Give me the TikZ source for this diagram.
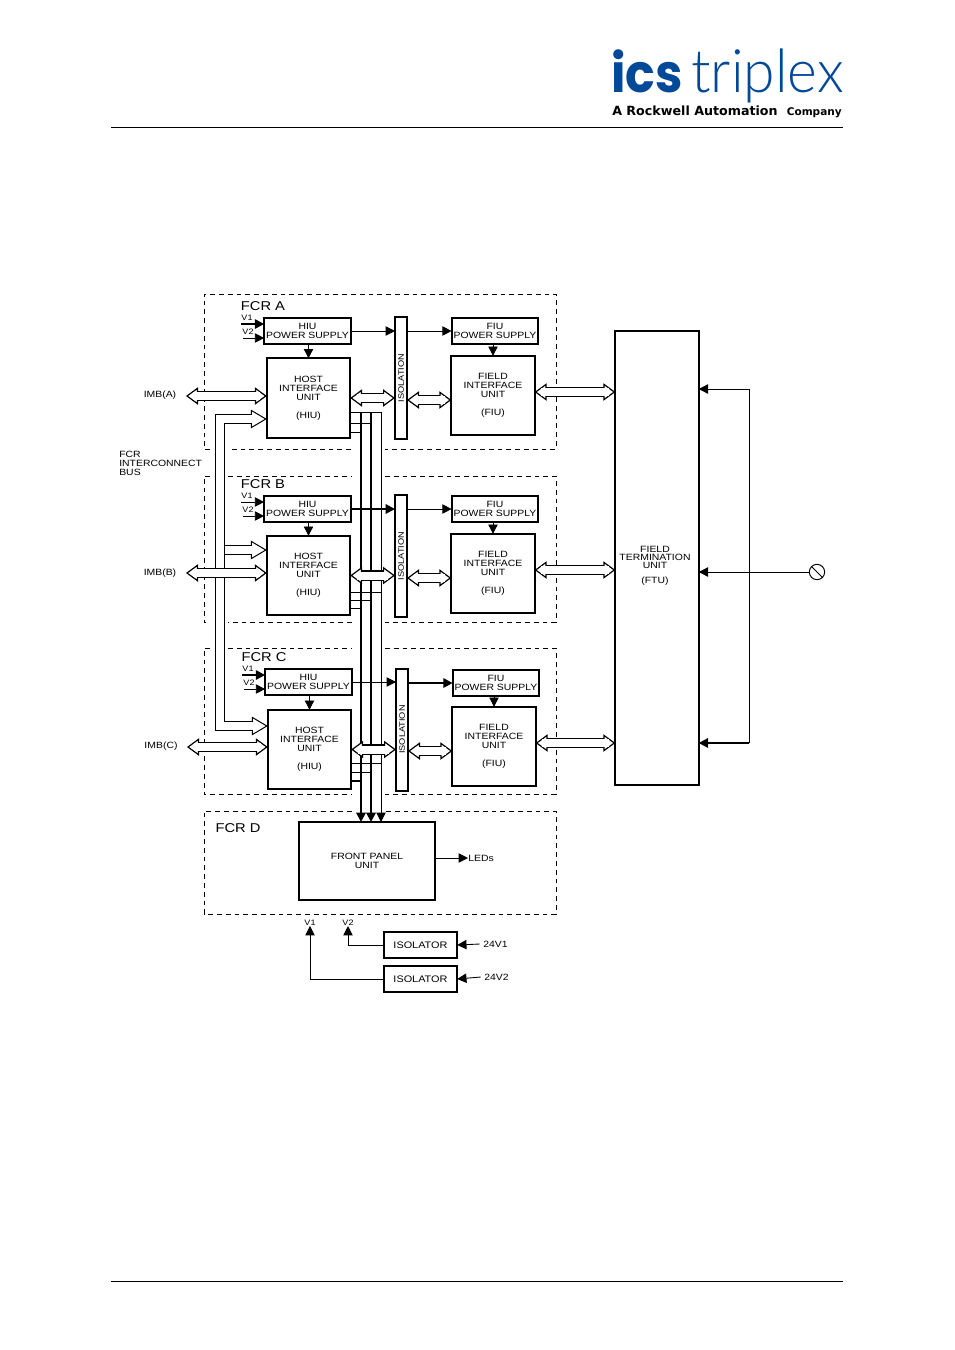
\documentclass[tikz,border=0pt]{standalone}
\usepackage{fontspec}
\setmainfont{Liberation Sans}[FakeStretch=1.15]
\newfontfamily\logolight{Lato Light}
\newfontfamily\logobold{Poppins}[BoldFont=* Bold]
\newfontfamily\logosub{DejaVu Sans}
\usetikzlibrary{arrows.meta,calc}
\definecolor{logoblue}{RGB}{0,72,152}
\newcommand{\txt}{\fontsize{6.8}{6.8}\selectfont}
\tikzset{
  block/.style={draw,line width=1.5pt,outer sep=0pt,inner sep=0pt,align=center,font=\txt},
  pwr/.style={block,minimum width=65pt,minimum height=19.5pt},
  unit/.style={block,minimum width=62.5pt,minimum height=59.5pt},
  isobar/.style={block,line width=1.5pt,minimum width=9pt,minimum height=91.5pt,font=\fontsize{6}{7}\selectfont},
  isol/.style={block,minimum width=55pt,minimum height=19.5pt,font=\fontsize{7.1}{8}\selectfont},
  lbl/.style={inner sep=0pt,align=center,font=\txt},
  small/.style={inner sep=0pt,font=\fontsize{5.9}{7}\selectfont},
  fcrname/.style={inner sep=0pt,font=\fontsize{9.6}{12}\selectfont},
  fcrbox/.style={line width=.7pt,dash pattern=on 3.6pt off 3pt},
  arr/.style={line width=.65pt,-{Triangle[length=7pt,width=7pt]}},
  arrthick/.style={arr,line width=1.5pt},
  hollow/.style={draw=none,
    preaction={draw,double,double distance=6pt,line width=.9pt,
      {Triangle[open,fill=white,length=9pt,width=13pt,line width=.9pt]}-{Triangle[open,fill=white,length=9pt,width=13pt,line width=.9pt]}},
    postaction={draw=white,line width=6pt,shorten <=5pt,shorten >=5pt}},
  busmain/.style={draw=none,
    preaction={draw,double,double distance=6.6pt,line width=.75pt,line join=miter,
      {Triangle[open,fill=white,length=12pt,width=14pt,line width=.75pt]}-{Triangle[open,fill=white,length=12pt,width=14pt,line width=.75pt]}},
    postaction={draw=white,line width=6.6pt,line join=miter,shorten <=7pt,shorten >=7pt}},
  busbranch/.style={draw=none,
    preaction={draw,double,double distance=6.6pt,line width=.75pt,
      -{Triangle[open,fill=white,length=12pt,width=14pt,line width=.75pt]}},
    postaction={draw=white,line width=6.6pt,shorten >=7pt}},
  bus/.style={line width=1.5pt,-{Triangle[length=7pt,width=7pt]}},
  busthin/.style={line width=.7pt,-{Triangle[length=7pt,width=7pt]}},
  stub/.style={line width=.6pt},
}
\begin{document}
\begin{tikzpicture}[x=.75pt,y=-.75pt]
  \useasboundingbox (0,0) rectangle (954,1350);
  % page head and foot
  \node[inner sep=0pt,text=logoblue,font=\logobold\bfseries\fontsize{40}{40}\selectfont,anchor=base west] (logoa) at (611,92) {\scalebox{.92}[1]{ics}};
  \node[inner sep=0pt,text=logoblue,font=\logolight\fontsize{45}{45}\selectfont,anchor=base west] (logob) at (691,92) {\scalebox{.95}[1]{triplex}};
  \node[inner sep=0pt,font=\logosub\bfseries\fontsize{9.5}{9}\selectfont,anchor=base west] (logoc) at (612,115) {A Rockwell Automation};
  \node[inner sep=0pt,font=\logosub\bfseries\fontsize{7.9}{9}\selectfont,anchor=base east] (logod) at (842,115) {Company};
  \draw[line width=.75pt] (111,127) -- (843,127);
  \draw[line width=.75pt] (111,1281) -- (843,1281);
  % dashed outlines
  \draw[fcrbox] (210,449) -- (204,449) -- (204,294) -- (556,294) -- (556,449) -- (385,449);
  \draw[fcrbox] (351,449) -- (228,449);
  \draw[fcrbox] (210,476) -- (204,476) -- (204,622) -- (210,622);
  \draw[fcrbox] (228,476) -- (352,476);
  \draw[fcrbox] (385,476) -- (556,476) -- (556,622) -- (385,622);
  \draw[fcrbox] (352,622) -- (228,622);
  \draw[fcrbox] (210,648) -- (204,648) -- (204,794) -- (352,794);
  \draw[fcrbox] (228,648) -- (352,648);
  \draw[fcrbox] (385,648) -- (556,648) -- (556,794) -- (385,794);
  \draw[fcrbox] (352,811) -- (204,811) -- (204,914) -- (556,914) -- (556,811) -- (385,811);
  % FCR A
  \node[fcrname] (namea) at (263,306) {FCR A};
  \node[pwr] (hpsa) at (307.5,331) {HIU\\POWER SUPPLY};
  \node[unit] (hiua) at (308.5,398) {HOST\\INTERFACE\\UNIT\\[6.8pt](HIU)};
  \node[isobar] (isoa) at (401,378) {\rotatebox{90}{ISOLATION}};
  \node[pwr] (fpsa) at (495,331) {FIU\\POWER SUPPLY};
  \node[unit] (fiua) at (493,395.5) {FIELD\\INTERFACE\\UNIT\\[6.8pt](FIU)};
  \node[small] (v1a) at (247,318) {V1};
  \node[small] (v2a) at (248,332) {V2};
  \node[lbl] (imba) at (160,395) {IMB(A)};
  % FCR B
  \node[fcrname] (nameb) at (263,484) {FCR B};
  \node[pwr] (hpsb) at (307.5,509) {HIU\\POWER SUPPLY};
  \node[unit] (hiub) at (308.5,575.5) {HOST\\INTERFACE\\UNIT\\[6.8pt](HIU)};
  \node[isobar] (isob) at (401,556) {\rotatebox{90}{ISOLATION}};
  \node[pwr] (fpsb) at (495,509) {FIU\\POWER SUPPLY};
  \node[unit] (fiub) at (493,573.5) {FIELD\\INTERFACE\\UNIT\\[6.8pt](FIU)};
  \node[small] (v1b) at (247,496) {V1};
  \node[small] (v2b) at (248,510) {V2};
  \node[lbl] (imbb) at (160,573) {IMB(B)};
  % FCR C
  \node[fcrname] (namec) at (264,657) {FCR C};
  \node[pwr] (hpsc) at (308.5,682) {HIU\\POWER SUPPLY};
  \node[unit] (hiuc) at (309.5,749.5) {HOST\\INTERFACE\\UNIT\\[6.8pt](HIU)};
  \node[isobar] (isoc) at (402,729.5) {\rotatebox{90}{ISOLATION}};
  \node[pwr] (fpsc) at (496,683) {FIU\\POWER SUPPLY};
  \node[unit] (fiuc) at (494,746.5) {FIELD\\INTERFACE\\UNIT\\[6.8pt](FIU)};
  \node[small] (v1c) at (248,669) {V1};
  \node[small] (v2c) at (249,683) {V2};
  \node[lbl] (imbc) at (161,746) {IMB(C)};
  % FCR D and the rest
  \node[fcrname] (named) at (238,828) {FCR D};
  \node[block,minimum width=102pt,minimum height=58.5pt] (fpu) at (367,861) {FRONT PANEL\\UNIT};
  \node[lbl,inner sep=0pt] (leds) at (481,858) {LEDs};
  \node[block,minimum width=62.5pt,minimum height=341pt] (ftu) at (657,558) {};
  \node[inner sep=0pt,align=center,font=\fontsize{6.8}{6}\selectfont] (ftutxt) at (655,565.5) {FIELD\\TERMINATION\\UNIT\\[5.2pt](FTU)};
  \node[lbl,align=left,anchor=west] (fcrbus) at (119,463) {FCR\\INTERCONNECT\\BUS};
  \node[circle,draw,line width=.7pt,inner sep=0pt,minimum size=11.5pt] (sym) at (817,572) {};
  \node[isol] (isoltop) at (420.5,945) {ISOLATOR};
  \node[isol] (isolbot) at (420.5,979) {ISOLATOR};
  \node[small] (vone) at (310,923) {V1};
  \node[small] (vtwo) at (348,923) {V2};
  \node[small,inner sep=2.5pt,font=\txt] (ina) at (495.5,944) {24V1};
  \node[small,inner sep=2.5pt,font=\txt] (inb) at (496.5,977) {24V2};
  % free ends
  \coordinate (sa) at (241,324);
  \coordinate (ta) at (243,338);
  \coordinate (sb) at (241,502);
  \coordinate (tb) at (243,516);
  \coordinate (sc) at (242,675);
  \coordinate (tc) at (244,689);
  \coordinate (busx) at (361,412);
  \coordinate (busy) at (371,412);
  \coordinate (busz) at (381,412);
  \coordinate (ica) at (220,419);
  \coordinate (icb) at (224.5,550);
  \coordinate (icc) at (220,726);
  \coordinate (fbt) at (749,389);
  \coordinate (fbb) at (749,743);
  % supplies
  \draw[arrthick] (sa) -- (sa -| hpsa.west);
  \draw[arr] (ta) -- (ta -| hpsa.west);
  \draw[arr] (sb) -- (sb -| hpsb.west);
  \draw[arr] (tb) -- (tb -| hpsb.west);
  \draw[arrthick] (sc) -- (sc -| hpsc.west);
  \draw[arr] (tc) -- (tc -| hpsc.west);
  \draw[arr] (hiua.north |- hpsa.south) -- (hiua.north);
  \draw[arr] (hiub.north |- hpsb.south) -- (hiub.north);
  \draw[arr] (hiuc.north |- hpsc.south) -- (hiuc.north);
  \draw[arr] (fiua.north |- fpsa.south) -- (fiua.north);
  \draw[arr] (fiub.north |- fpsb.south) -- (fiub.north);
  \draw[arr] (fiuc.north |- fpsc.south) -- (fiuc.north);
  % bus to the front panel
  \draw[bus] (busx) -- (busx |- fpu.north);
  \draw[bus] (busy) -- (busy |- fpu.north);
  \draw[busthin] (busz) -- (busz |- fpu.north);
  \draw[stub] (hiua.east |- 0,412) -- (busz |- 0,412);
  \draw[stub] (hiua.east |- 0,423) -- (busy |- 0,423);
  \draw[stub] (hiua.east |- 0,432) -- (busx |- 0,432);
  \draw[stub] (hiub.east |- 0,592) -- (busz |- 0,592);
  \draw[stub] (hiub.east |- 0,600) -- (busy |- 0,600);
  \draw[stub] (hiub.east |- 0,608) -- (busx |- 0,608);
  \draw[stub] (hiuc.east |- 0,763) -- (busz |- 0,763);
  \draw[stub] (hiuc.east |- 0,772) -- (busy |- 0,772);
  \draw[stub,line width=1.2pt] (hiuc.east |- 0,781) -- (busx |- 0,781);
  % over the bus
  \draw[arr] (hpsa.east) -- (hpsa.east -| isoa.west);
  \draw[arr] (fpsa.west -| isoa.east) -- (fpsa.west);
  \draw[arrthick] (hpsb.east) -- (hpsb.east -| isob.west);
  \draw[arr] (fpsb.west -| isob.east) -- (fpsb.west);
  \draw[arr] (hpsc.east) -- (hpsc.east -| isoc.west);
  \draw[arrthick] (fpsc.west -| isoc.east) -- (fpsc.west);
  % interconnect bus
  \draw[busmain] (ica -| hiua.west) -- (ica) -- (icc) -- (icc -| hiuc.west);
  \draw[busbranch] (icb) -- (icb -| hiub.west);
  % double arrows
  \draw[hollow] (186,396) -- (hiua.west |- 0,396);
  \draw[hollow] (hiua.east) -- (hiua.east -| isoa.west);
  \draw[hollow] (isoa.east |- 0,400) -- (fiua.west |- 0,400);
  \draw[hollow] (fiua.east |- 0,392) -- (ftu.west |- 0,392);
  \draw[hollow] (186,573) -- (hiub.west |- 0,573);
  \draw[hollow] (hiub.east) -- (hiub.east -| isob.west);
  \draw[hollow] (isob.east |- 0,578) -- (fiub.west |- 0,578);
  \draw[hollow] (fiub.east |- 0,570) -- (ftu.west |- 0,570);
  \draw[hollow] (187,747) -- (hiuc.west |- 0,747);
  \draw[hollow] (hiuc.east) -- (hiuc.east -| isoc.west);
  \draw[hollow] (isoc.east |- 0,751) -- (fiuc.west |- 0,751);
  \draw[hollow] (fiuc.east |- 0,743) -- (ftu.west |- 0,743);
  % field side
  \draw[arr] (fbb) -- (fbt) -- (fbt -| ftu.east);
  \draw[arrthick] (fbb) -- (fbb -| ftu.east);
  \draw[arr] (sym.west) -- (sym.west -| ftu.east);
  \draw[line width=.7pt] (sym.135) -- (sym.-45);
  % front panel and isolators
  \draw[arr] (leds.west -| fpu.east) -- (leds.west);
  \draw[arr] (isoltop.west) -| (vtwo.south);
  \draw[arr] (isolbot.west) -| (vone.south);
  \draw[arr] (ina.west) -- (isoltop.east);
  \draw[arr] (inb.west) -- (isolbot.east);
\end{tikzpicture}
\end{document}
